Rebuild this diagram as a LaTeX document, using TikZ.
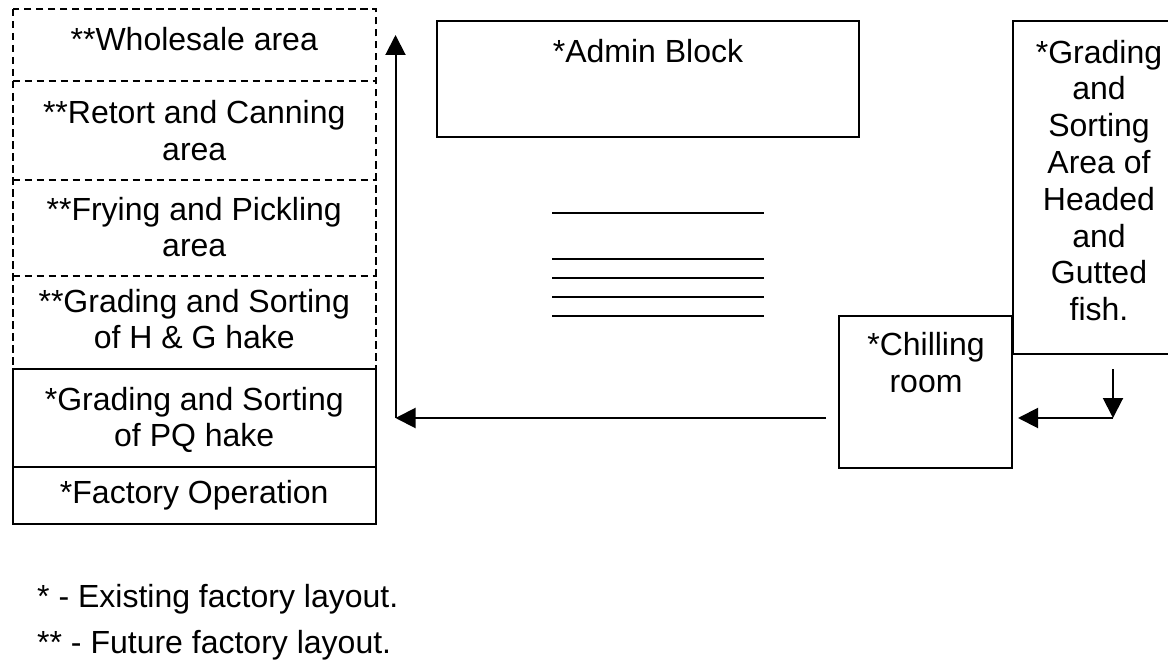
\documentclass[tikz,border=0pt]{standalone}
\usepackage{fontspec}
\setmainfont{Liberation Sans}
\usetikzlibrary{arrows.meta}
\tikzset{
  lw/.style={line width=2pt},
  dashline/.style={lw, dash pattern=on 7.5pt off 4.5pt},
  box/.style={lw, draw, rectangle, inner sep=0pt},
  row/.style={rectangle, inner sep=0pt, align=center},
  txt/.style={inner sep=0pt, align=center},
  arr/.style={lw, -{Triangle[length=20pt,width=20pt]}},
}
\begin{document}
\begin{tikzpicture}[x=1pt,y=-1pt,font=\fontsize{32}{36.8}\selectfont]
\useasboundingbox (0,0) rectangle (1168,669);
\clip (0,0) rectangle (1168,669);

% left column outline (future part dashed, existing part solid)
\draw[dashline] (12.5,9) rectangle (376,369);
\draw[dashline] (12.5,81) -- (376,81);
\draw[dashline] (12.5,180) -- (376,180);
\draw[dashline] (12.5,276) -- (376,276);
\draw[lw] (12.5,369) rectangle (376,524);
\draw[lw] (12.5,467) -- (376,467);

% left column rows
\node[row] (r1) at (194.25,39) {**Wholesale area};
\node[row] (r2) at (194.25,130.5) {**Retort and Canning\\area};
\node[row] (r3) at (194.25,227) {**Frying and Pickling\\area};
\node[row] (r4) at (194.25,319) {**Grading and Sorting\\of H \& G hake};
\node[row] (r5) at (194.25,420) {*Grading and Sorting\\of PQ hake};
\node[row] (r6) at (194.25,495.5) {*Factory Operation};

% admin block
\node[box, minimum width=422.3pt, minimum height=116.6pt] (admin) at (647.85,79) {};
\node[txt, anchor=north] (admint) at (648,39) {*Admin Block};

% parallel lines
\foreach \yy in {213.3,259.3,278.3,297.3,316} {
  \draw[lw] (552,\yy) -- (764,\yy);
}

% chilling room
\node[box, minimum width=173pt, minimum height=152.6pt] (chill) at (925.8,392) {};
\node[txt, anchor=north] (chillt) at (926,332) {*Chilling\\room};

% grading & sorting of headed and gutted fish (runs off the right edge)
\node[box, minimum width=171.5pt, minimum height=333.6pt] (hg) at (1098.25,187.5) {};
\node[txt, anchor=north] (hgt) at (1099,39.8) {*Grading\\and\\Sorting\\Area of\\Headed\\and\\Gutted\\fish.};

% arrows
\coordinate (a0) at (826,418);
\coordinate (corner) at (395.5,418);
\coordinate (uptip) at (395.5,35);
\coordinate (d0) at (1113,369);
\coordinate (d1) at (1113,418);
\coordinate (ctip) at (1018,418);
\draw[arr] (a0) -- (corner);
\draw[arr] (corner) -- (uptip);
\draw[arr] (d0) -- (d1);
\draw[arr] (d1) -- (ctip);

% legend
\node[inner sep=0pt, anchor=base west] (leg1) at (37,607) {* - Existing factory layout.};
\node[inner sep=0pt, anchor=base west] (leg2) at (37,653) {** - Future factory layout.};
\end{tikzpicture}
\end{document}
